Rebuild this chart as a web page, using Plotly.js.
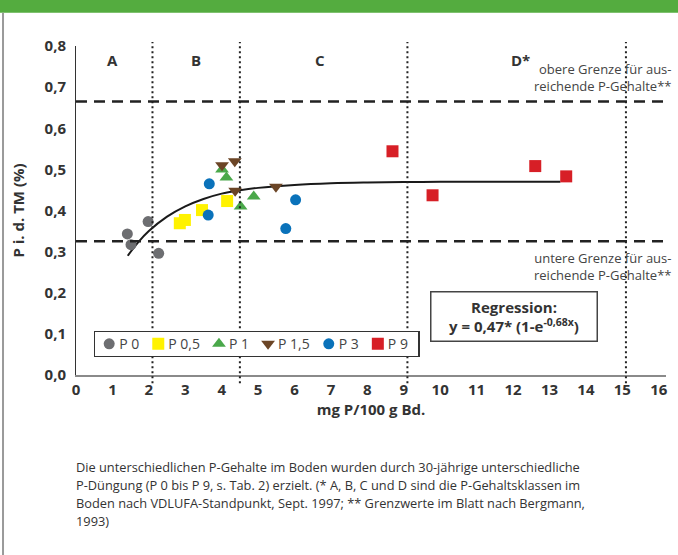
<!DOCTYPE html>
<html><head><meta charset="utf-8">
<script src="https://cdn.plot.ly/plotly-3.0.1.min.js"></script>
<style>html,body{margin:0;padding:0;background:#fff;}#chart{width:678px;height:555px;}</style>
</head><body><div id="chart"></div>
<script>
// ---- data ----
const p0x = [1.41, 1.51, 1.98, 2.27];
const p0y = [0.343, 0.317, 0.373, 0.296];
const p05x = [2.85, 2.99, 3.46, 4.15];
const p05y = [0.369, 0.377, 0.401, 0.423];
const p1x = [4.01, 4.13, 4.52, 4.88];
const p1y = [0.500, 0.480, 0.410, 0.434];
const p15x = [4.01, 4.36, 4.37, 5.49];
const p15y = [0.510, 0.520, 0.448, 0.458];
const p3x = [3.66, 3.63, 6.03, 5.76];
const p3y = [0.465, 0.389, 0.426, 0.356];
const p9x = [8.69, 9.79, 12.61, 13.46];
const p9y = [0.544, 0.437, 0.508, 0.483];
// regression curve, points
const curveX = [1.42, 1.7, 2.0, 2.5, 3.0, 3.5, 4.0, 4.5, 5.0, 6.0, 7.0, 8.0, 9.0, 10.0, 11.0, 12.0, 13.3];
const curveY = [0.29, 0.322, 0.35, 0.385, 0.41, 0.428, 0.441, 0.449, 0.455, 0.462, 0.466, 0.468, 0.469, 0.47, 0.47, 0.47, 0.47];
// class boundaries and limits
const classBounds = [2.1, 4.5, 9.1, 15.1];
const classLabels = ['A', 'B', 'C', 'D*'];
const classLabelX = [1.0, 3.3, 6.7, 12.2];
const limitUpper = 0.665;
const limitLower = 0.325;
const seriesNames = ['P 0', 'P 0,5', 'P 1', 'P 1,5', 'P 3', 'P 9'];
const seriesColors = ['#6d6e71', '#fff200', '#4aa84a', '#6b4526', '#0a72ba', '#d71f26'];
const seriesSymbols = ['circle', 'square', 'triangle-up', 'triangle-down', 'circle', 'square'];
const seriesSizes = [11, 12, 12, 12, 11, 12];
const captionLines = [
  'Die unterschiedlichen P-Gehalte im Boden wurden durch 30-jährige unterschiedliche',
  'P-Düngung (P 0 bis P 9, s. Tab. 2) erzielt. (* A, B, C und D sind die P-Gehaltsklassen im',
  'Boden nach VDLUFA-Standpunkt, Sept. 1997; ** Grenzwerte im Blatt nach Bergmann,',
  '1993)'
];

const xs = [p0x, p05x, p1x, p15x, p3x, p9x];
const ys = [p0y, p05y, p1y, p15y, p3y, p9y];

const FONT = '"Open Sans", "Noto Sans", sans-serif';

const traces = [{
  x: curveX, y: curveY, mode: 'lines', line: {color: '#1a1a1a', width: 2, shape: 'spline', smoothing: 1.1},
  showlegend: false, hoverinfo: 'skip'
}];
for (let i = 0; i < seriesNames.length; i++) {
  traces.push({
    x: xs[i], y: ys[i], mode: 'markers', name: seriesNames[i],
    marker: {color: seriesColors[i], symbol: seriesSymbols[i], size: seriesSizes[i], line: {width: 0}}
  });
}

const shapes = [];
shapes.push({type: 'rect', xref: 'paper', yref: 'paper', x0: -0.13, x1: 1.03, y0: 1.101, y1: 1.15,
  fillcolor: '#54ac3f', line: {width: 0}, layer: 'above'});
shapes.push({type: 'line', xref: 'paper', yref: 'paper', x0: -0.1237, x1: -0.1237, y0: -0.55, y1: 1.101,
  line: {color: '#9a9a9a', width: 2}});
classBounds.forEach(b => shapes.push({type: 'line', xref: 'x', yref: 'paper', x0: b, x1: b, y0: -0.025, y1: 1.012,
  line: {color: '#222', width: 2, dash: '2px,3px'}}));
[limitUpper, limitLower].forEach(v => shapes.push({type: 'line', xref: 'paper', yref: 'y', x0: 0, x1: 1, y0: v, y1: v,
  line: {color: '#222', width: 2.5, dash: '11px,7px'}}));

const annotations = [];
classLabels.forEach((t, i) => annotations.push({x: classLabelX[i], y: 0.766, xref: 'x', yref: 'y', text: '<b>' + t + '</b>',
  showarrow: false, font: {family: FONT, size: 15, color: '#333'}}));
annotations.push({xref: 'paper', yref: 'paper', x: 1.012, y: 0.846, xanchor: 'right', yanchor: 'bottom', align: 'right',
  text: 'obere Grenze für aus-<br>reichende P-Gehalte**', showarrow: false, font: {family: FONT, size: 13, color: '#444'}});
annotations.push({xref: 'paper', yref: 'paper', x: 1.012, y: 0.39, xanchor: 'right', yanchor: 'top', align: 'right',
  text: 'untere Grenze für aus-<br>reichende P-Gehalte**', showarrow: false, font: {family: FONT, size: 13, color: '#444'}});
annotations.push({xref: 'paper', yref: 'paper', x: 0.743, y: 0.178, xanchor: 'center', yanchor: 'middle', align: 'center',
  text: '<b>Regression:</b><br><b>y = 0,47* (1-e<sup>-0,68x</sup>)</b>', showarrow: false,
  bordercolor: '#444', borderwidth: 1.5, borderpad: 4, width: 157,
  font: {family: FONT, size: 15, color: '#333'}});
captionLines.forEach((t, i) => annotations.push({xref: 'paper', yref: 'paper', x: -0.004,
  y: (375 - (466.5 + 18 * i)) / 329, xanchor: 'left', yanchor: 'middle', align: 'left',
  text: t, showarrow: false, font: {family: FONT, size: 12.8, color: '#333'}}));

const layout = {
  width: 678, height: 555,
  margin: {l: 76, r: 12, t: 46, b: 180},
  paper_bgcolor: '#fff', plot_bgcolor: '#fff',
  separators: ', ',
  font: {family: FONT, color: '#333'},
  xaxis: {range: [0, 16.2], tickvals: [0,1,2,3,4,5,6,7,8,9,10,11,12,13,14,15,16],
    showgrid: false, zeroline: false, showline: true, linecolor: '#8a8a8a', linewidth: 1.5,
    ticks: '', tickfont: {family: FONT, size: 15, color: '#333', weight: 'bold'},
    title: {text: '<b>mg P/100 g Bd.</b>', font: {family: FONT, size: 15, color: '#333'}, standoff: 6}},
  yaxis: {range: [0, 0.8], tickvals: [0,0.1,0.2,0.3,0.4,0.5,0.6,0.7,0.8], tickformat: '.1f',
    showgrid: false, zeroline: false, showline: true, linecolor: '#333', linewidth: 1,
    ticks: '', ticklabelstandoff: 6, tickfont: {family: FONT, size: 15, color: '#333', weight: 'bold'},
    title: {text: '<b>P i. d. TM (%)</b>', font: {family: FONT, size: 15, color: '#333'}, standoff: 16}},
  legend: {orientation: 'h', x: 0.0305, y: 0.146, xanchor: 'left', yanchor: 'top',
    bordercolor: '#333', borderwidth: 1.2, bgcolor: '#fff',
    font: {family: FONT, size: 14, color: '#444'}, itemwidth: 30, tracegroupgap: 0},
  shapes: shapes,
  annotations: annotations
};

Plotly.newPlot('chart', traces, layout, {displayModeBar: false, staticPlot: true}).then(gd => {
  // tighten the legend spacing to match the compact legend of the reference
  const items = Array.from(gd.querySelectorAll('.legend .traces'));
  if (!items.length) return;
  const parse = s => { const m = /translate\(\s*([-\d.]+)[ ,]+([-\d.]+)/.exec(s || ''); return m ? [+m[1], +m[2]] : [0, 0]; };
  let x = parse(items[0].getAttribute('transform'))[0] - 6;
  let lastEnd = x;
  items.forEach(g => {
    const y = parse(g.getAttribute('transform'))[1];
    const t = g.querySelector('.legendtext');
    if (!t) return;
    t.setAttribute('x', 30);
    t.querySelectorAll('tspan[x]').forEach(ts => ts.setAttribute('x', 30));
    const w = t.getComputedTextLength();
    g.setAttribute('transform', 'translate(' + x + ',' + y + ')');
    lastEnd = x + 30 + w;
    x += w + 29;
  });
  const bg = gd.querySelector('.legend .bg');
  if (bg) {
    const bx = parseFloat(bg.getAttribute('x') || 0);
    bg.setAttribute('width', lastEnd + 11 - bx);
    const by = parseFloat(bg.getAttribute('y') || 0);
    const bh = parseFloat(bg.getAttribute('height') || 0);
    if (bh > 25) { bg.setAttribute('y', by + (bh - 25) / 2); bg.setAttribute('height', 25); }
  }
});
</script>
</body></html>
